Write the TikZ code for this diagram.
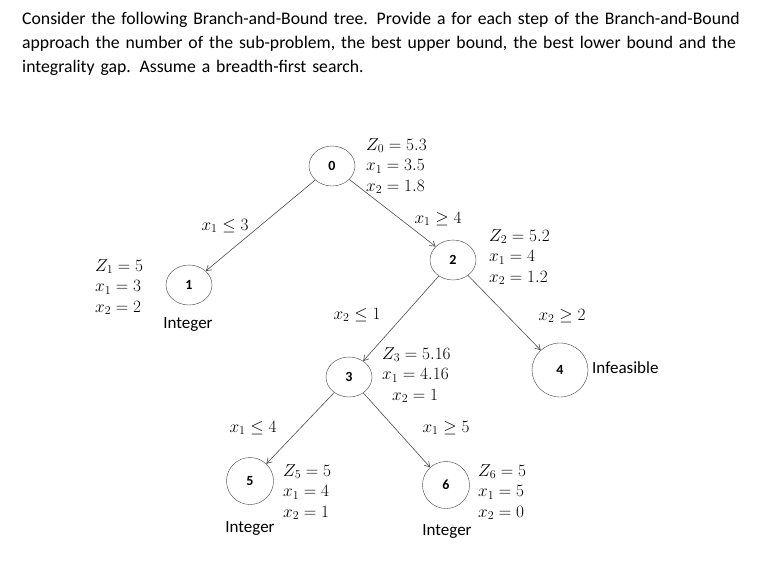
\documentclass[tikz,border=0pt]{standalone}
\usepackage{fontspec}
\setmainfont{Carlito}
\usetikzlibrary{shapes.geometric,arrows.meta}
\begin{document}
\begin{tikzpicture}[x=1pt,y=-1pt,
  bb/.style={draw=black!75,ellipse,inner sep=0pt,minimum width=46pt,minimum height=40pt,font=\fontsize{14}{14}\selectfont\bfseries},
  ed/.style={draw=black!70,line width=0.6pt,-{Straight Barb[length=5pt,width=6pt]}},
  lab/.style={font=\fontsize{17}{20}\selectfont,inner sep=0pt},
  txt/.style={font=\fontsize{17.7}{24}\selectfont,inner sep=0pt},
  vals/.style={font=\fontsize{16.5}{20.5}\selectfont,inner sep=0pt,align=left,anchor=west}]
\useasboundingbox (0,0) rectangle (767,566);
\node[txt,anchor=north west,align=left,text width=745pt] (q) at (22,12) {Consider the following Branch-and-Bound tree. Provide a for each step of the Branch-and-Bound\\approach the number of the sub-problem, the best upper bound, the best lower bound and the\\integrality gap. Assume a breadth-first search.};
\node[bb] (n0) at (332,166) {0};
\node[bb] (n1) at (189,285) {1};
\node[bb] (n2) at (453,260) {2};
\node[bb] (n3) at (349,377) {3};
\node[bb,minimum width=56pt,minimum height=54pt] (n4) at (560,370) {4};
\node[bb,minimum width=47pt,minimum height=47pt] (n5) at (250,481) {5};
\node[bb,minimum width=47pt,minimum height=47pt] (n6) at (446,485) {6};
\draw[ed] (n0) -- (n1);
\draw[ed] (n0) -- (n2);
\draw[ed] (n2) -- (n3);
\draw[ed] (n2) -- (n4);
\draw[ed] (n3) -- (n5);
\draw[ed] (n3) -- (n6);
\node[vals] (v0) at (366,166) {$Z_0=5.3$\\$x_1=3.5$\\$x_2=1.8$};
\node[vals] (v1) at (95,287) {$Z_1=5$\\$x_1=3$\\$x_2=2$};
\node[vals] (v2) at (489,257) {$Z_2=5.2$\\$x_1=4$\\$x_2=1.2$};
\node[vals] (v3) at (382,375) {$Z_3=5.16$\\$x_1=4.16$\\\hspace*{10pt}$x_2=1$};
\node[vals] (v5) at (283,492) {$Z_5=5$\\$x_1=4$\\$x_2=1$};
\node[vals] (v6) at (478,492) {$Z_6=5$\\$x_1=5$\\$x_2=0$};
\node[lab] (i1) at (188,324) {Integer};
\node[lab] (i5) at (250,528) {Integer};
\node[lab] (i6) at (447,531) {Integer};
\node[lab,anchor=west] (i4) at (592,368) {Infeasible};
\node[lab] (e1) at (225,226) {$x_1\le3$};
\node[lab] (e2) at (438,219) {$x_1\ge4$};
\node[lab] (e3) at (357,315) {$x_2\le1$};
\node[lab] (e4) at (562,316) {$x_2\ge2$};
\node[lab] (e5) at (253,428) {$x_1\le4$};
\node[lab] (e6) at (446,428) {$x_1\ge5$};
\end{tikzpicture}
\end{document}
